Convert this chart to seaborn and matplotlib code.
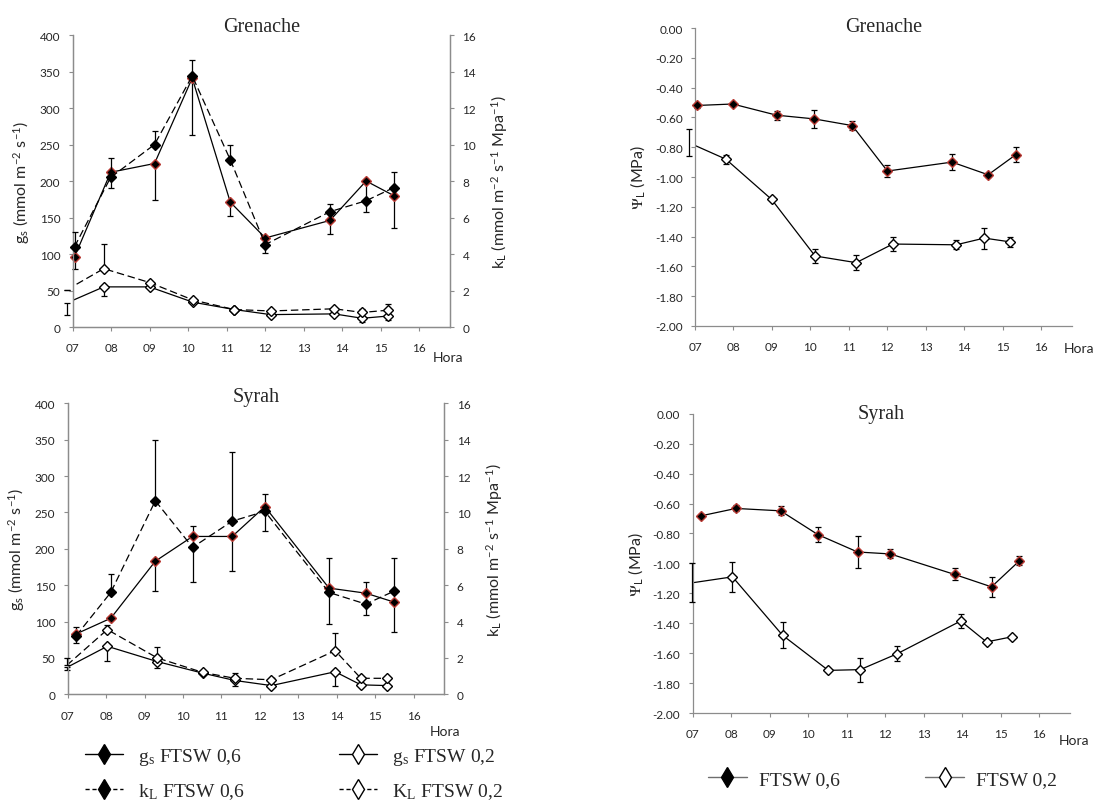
import numpy as np
import seaborn as sns
import matplotlib.pyplot as plt
from matplotlib.lines import Line2D
from matplotlib.ticker import FormatStrFormatter

sns.set_style('ticks')
plt.rcParams['font.family'] = ['Lato', 'DejaVu Sans']
plt.rcParams['mathtext.fontset'] = 'stix'

# ---- Grenache ----
x06_gre = [7.04, 7.98, 9.12, 10.10, 11.09, 12.00, 13.68, 14.62, 15.34]
x02_gre = [6.84, 7.80, 8.99, 10.12, 11.19, 12.14, 13.79, 14.52, 15.18]

gs06_gre = [96, 212, 224, 341, 171, 122, 146, 200, 180]
gs06_gre_lo = [16, 22, 50, 78, 19, 21, 19, 42, 44]
gs06_gre_hi = [0, 0, 0, 0, 0, 0, 0, 0, 0]
kl06_gre = [4.40, 8.20, 10.00, 13.76, 9.16, 4.52, 6.32, 6.92, 7.64]
kl06_gre_lo = [0, 0, 0, 0, 0, 0, 0, 0, 0]
kl06_gre_hi = [0.80, 1.08, 0.76, 0.88, 0.84, 0, 0.44, 0, 0.84]

gs02_gre = [33, 55, 55, 34, 24, 17, 18, 12, 15]
gs02_gre_lo = [17, 13, 0, 0, 0, 0, 0, 5, 6]
gs02_gre_hi = [0, 0, 0, 0, 0, 0, 0, 0, 0]
kl02_gre = [2.04, 3.20, 2.44, 1.48, 0.96, 0.88, 1.00, 0.80, 0.92]
kl02_gre_lo = [0, 0, 0, 0, 0, 0, 0, 0, 0]
kl02_gre_hi = [0, 1.36, 0, 0, 0, 0, 0, 0.20, 0.32]

psi06_gre = [-0.52, -0.51, -0.585, -0.61, -0.655, -0.96, -0.90, -0.985, -0.85]
psi06_gre_err = [0.02, 0.01, 0.03, 0.06, 0.03, 0.04, 0.055, 0.015, 0.05]
psi02_gre = [-0.77, -0.88, -1.15, -1.53, -1.575, -1.45, -1.455, -1.41, -1.435]
psi02_gre_err = [0.09, 0.03, 0, 0.045, 0.05, 0.05, 0.03, 0.07, 0.035]

# ---- Syrah ----
x06_syr = [7.22, 8.12, 9.28, 10.25, 11.28, 12.13, 13.80, 14.76, 15.48]
x02_syr = [6.98, 8.03, 9.33, 10.52, 11.35, 12.30, 13.96, 14.63, 15.30]

gs06_syr = [83, 104.5, 183, 217, 217, 258, 146, 139, 127]
gs06_syr_lo = [0, 0, 41, 0, 48, 0, 0, 0, 41]
gs06_syr_hi = [9, 0, 0, 14, 0, 17, 42, 15, 0]
kl06_syr = [3.22, 5.60, 10.64, 8.08, 9.52, 10.06, 5.60, 4.96, 5.66]
kl06_syr_lo = [0.40, 0, 0, 1.88, 0, 1.08, 1.72, 0.60, 0]
kl06_syr_hi = [0, 1.04, 3.36, 0, 3.80, 0, 0, 0, 1.86]

gs02_syr = [37, 66, 45, 29, 19, 12, 31, 13, 12]
gs02_syr_lo = [3, 20, 9, 0, 8, 0, 19, 0, 0]
gs02_syr_hi = [0, 0, 0, 0, 0, 0, 0, 0, 0]
kl02_syr = [1.60, 3.56, 2.00, 1.20, 0.88, 0.80, 2.40, 0.88, 0.88]
kl02_syr_lo = [0, 0, 0, 0, 0, 0, 0, 0, 0]
kl02_syr_hi = [0.40, 0.24, 0.60, 0, 0.28, 0, 0.96, 0, 0]

psi06_syr = [-0.682, -0.633, -0.649, -0.808, -0.924, -0.937, -1.074, -1.157, -0.984]
psi06_syr_err = [0.01, 0.02, 0.03, 0.05, 0.11, 0.03, 0.04, 0.065, 0.03]
psi02_syr = [-1.13, -1.09, -1.48, -1.715, -1.71, -1.605, -1.385, -1.525, -1.49]
psi02_syr_err = [0.13, 0.10, 0.085, 0, 0.08, 0.05, 0.045, 0, 0]

hours = list(range(7, 17))
hour_labels = ['%02d' % h for h in hours]

SERIF = ['Liberation Serif', 'DejaVu Serif']
AXC = '#8c8c8c'
TXT = '#262626'
RED = '#b83a34'
SOLID = '-'
DASH = (0, (6, 3))


def draw(ax, x, y, lo, hi, dash, face, edge):
    x = np.asarray(x, float)
    y = np.asarray(y, float)
    sns.lineplot(x=x, y=y, ax=ax, sort=False, estimator=None,
                 color='black', lw=0.9, linestyle=dash)
    eb = ax.errorbar(x, y, yerr=[lo, hi], fmt='none', ecolor='black',
                     elinewidth=0.9, capsize=2.2, capthick=0.9, zorder=3)
    for art in list(eb.lines[1]) + list(eb.lines[2]):
        art.set_clip_on(False)
    m = x >= 7
    ax.plot(x[m], y[m], ls='none', marker='D', ms=4.8, mfc=face, mec=edge,
            mew=1, clip_on=False, zorder=5)


def base_axis(ax):
    ax.set_xlim(7, 16.8)
    ax.set_xticks(hours)
    ax.set_xticklabels(hour_labels)
    ax.tick_params(axis='both', labelsize=8.5, direction='out', length=3,
                   width=0.8, color=AXC, labelcolor=TXT, bottom=True, left=True)
    ax.tick_params(axis='x', pad=8)
    ax.tick_params(axis='y', pad=6)
    for s in ['left', 'bottom', 'right']:
        ax.spines[s].set_color(AXC)
        ax.spines[s].set_linewidth(0.9)
    ax.spines['top'].set_visible(False)


def left_panel(rect, title, ty, hora_xy, x06, x02, gs06, gs06lo, gs06hi, kl06, kl06lo, kl06hi,
               gs02, gs02lo, gs02hi, kl02, kl02lo, kl02hi):
    ax = fig.add_axes(rect)
    ax2 = ax.twinx()
    base_axis(ax)
    ax.set_ylim(0, 400)
    ax.set_yticks(range(0, 401, 50))
    ax2.set_ylim(0, 16)
    ax2.set_yticks(range(0, 17, 2))
    ax2.tick_params(axis='y', labelsize=8.5, direction='out', length=3, width=0.8,
                    color=AXC, labelcolor=TXT, right=True, pad=6)
    for s in ['left', 'bottom', 'right']:
        ax2.spines[s].set_color(AXC)
        ax2.spines[s].set_linewidth(0.9)
    ax2.spines['top'].set_visible(False)

    draw(ax, x02, gs02, gs02lo, gs02hi, SOLID, 'white', 'black')
    draw(ax2, x02, kl02, kl02lo, kl02hi, DASH, 'white', 'black')
    draw(ax, x06, gs06, gs06lo, gs06hi, SOLID, 'black', RED)
    draw(ax2, x06, kl06, kl06lo, kl06hi, DASH, 'black', 'black')

    ax.set_ylabel(r'g$_\mathregular{s}$ (mmol m$^\mathregular{-2}$ s$^\mathregular{-1}$)',
                  fontsize=11.5, color=TXT)
    ax.yaxis.set_label_coords(-0.109, 0.5)
    ax2.set_ylabel(r'k$_\mathregular{L}$ (mmol m$^\mathregular{-2}$ s$^\mathregular{-1}$ Mpa$^\mathregular{-1}$)',
                   fontsize=11.5, color=TXT)
    ax2.yaxis.set_label_coords(1.105, 0.5)
    ax.set_title(title, family=SERIF, fontsize=14.5, y=ty, pad=0)
    ax.text(hora_xy[0], hora_xy[1], 'Hora', transform=ax.transAxes,
            ha='left', va='center', fontsize=10, color=TXT)
    ax.set_xlabel('')
    ax2.set_xlabel('')


def right_panel(rect, title, ty, hora_xy, x06, x02, p06, e06, p02, e02):
    ax = fig.add_axes(rect)
    base_axis(ax)
    ax.spines['right'].set_visible(False)
    ax.set_ylim(-2, 0)
    ax.set_yticks(np.linspace(-2, 0, 11))
    ax.yaxis.set_major_formatter(FormatStrFormatter('%.2f'))
    draw(ax, x02, p02, e02, e02, SOLID, 'white', 'black')
    draw(ax, x06, p06, e06, e06, SOLID, 'black', RED)
    ax.set_ylabel(r'$\Psi_\mathregular{L}$ (MPa)', fontsize=11.5, color=TXT)
    ax.yaxis.set_label_coords(-0.127, 0.5)
    ax.set_title(title, family=SERIF, fontsize=14.5, y=ty, pad=0)
    ax.text(hora_xy[0], hora_xy[1], 'Hora', transform=ax.transAxes,
            ha='left', va='center', fontsize=10, color=TXT)
    ax.set_xlabel('')


fig = plt.figure(figsize=(10.94, 8.04), dpi=100)

left_panel([0.0667, 0.592, 0.3446, 0.3632], 'Grenache', 1.015, (0.955, -0.103),
           x06_gre, x02_gre, gs06_gre, gs06_gre_lo, gs06_gre_hi, kl06_gre, kl06_gre_lo, kl06_gre_hi,
           gs02_gre, gs02_gre_lo, gs02_gre_hi, kl02_gre, kl02_gre_lo, kl02_gre_hi)
left_panel([0.0619, 0.1352, 0.3442, 0.3619], 'Syrah', 1.009, (0.962, -0.127),
           x06_syr, x02_syr, gs06_syr, gs06_syr_lo, gs06_syr_hi, kl06_syr, kl06_syr_lo, kl06_syr_hi,
           gs02_syr, gs02_syr_lo, gs02_syr_hi, kl02_syr, kl02_syr_lo, kl02_syr_hi)
right_panel([0.6353, 0.5933, 0.3446, 0.3706], 'Grenache', 0.99, (0.977, -0.074),
            x06_gre, x02_gre, psi06_gre, psi06_gre_err, psi02_gre, psi02_gre_err)
right_panel([0.6333, 0.1119, 0.3448, 0.3723], 'Syrah', 0.986, (0.969, -0.09),
            x06_syr, x02_syr, psi06_syr, psi06_syr_err, psi02_syr, psi02_syr_err)

# legends
leg_font = {'family': SERIF, 'size': 14}
h_left = [
    Line2D([], [], color='black', lw=1, marker='d', ms=10, mfc='black', mec='black'),
    Line2D([], [], color='black', lw=1, ls=(0, (3, 2)), marker='d', ms=10, mfc='black', mec='black'),
    Line2D([], [], color='black', lw=1, marker='d', ms=10, mfc='white', mec='black'),
    Line2D([], [], color='black', lw=1, ls=(0, (3, 2)), marker='d', ms=10, mfc='white', mec='black'),
]
lab_left = [r'g$_\mathregular{s}$ FTSW 0,6', r'k$_\mathregular{L}$ FTSW 0,6',
            r'g$_\mathregular{s}$ FTSW 0,2', r'K$_\mathregular{L}$ FTSW 0,2']
fig.legend(h_left, lab_left, ncol=2, loc='upper left', bbox_to_anchor=(85 / 1094, 1 - 747 / 804),
           frameon=False, prop=leg_font, handlelength=1.96, handletextpad=0.77,
           columnspacing=4.83, labelspacing=0.72, borderpad=0, borderaxespad=0)

h_right = [
    Line2D([], [], color='#6e6e6e', lw=1, marker='d', ms=10, mfc='black', mec='black'),
    Line2D([], [], color='#6e6e6e', lw=1, marker='d', ms=10, mfc='white', mec='black'),
]
fig.legend(h_right, ['FTSW 0,6', 'FTSW 0,2'], ncol=2, loc='upper left',
           bbox_to_anchor=(708 / 1094, 1 - 771 / 804), frameon=False, prop=leg_font,
           handlelength=2.0, handletextpad=0.62, columnspacing=4.4, borderpad=0, borderaxespad=0)

fig.savefig('out.png', dpi=100, facecolor='white')
